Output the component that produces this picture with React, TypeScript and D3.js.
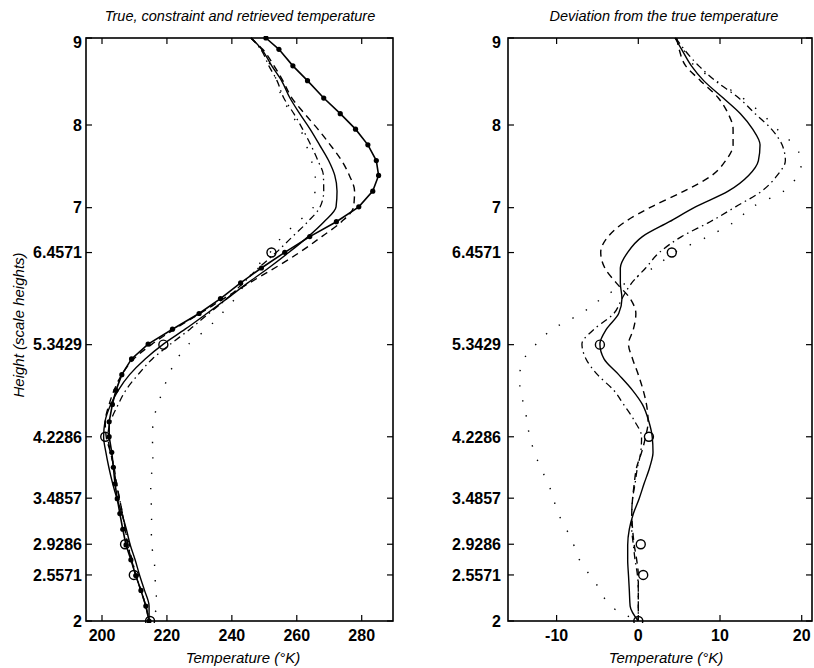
import React from "react";
import * as d3 from "d3";

// ---------- data ----------
const heights = [9.0, 8.87, 8.68, 8.51, 8.31, 8.13, 7.95, 7.76, 7.57, 7.39, 7.2, 7.01, 6.83, 6.65, 6.46, 6.27, 6.09, 5.9, 5.72, 5.53, 5.35, 5.17, 4.98, 4.79, 4.62, 4.41, 4.23, 4.04, 3.86, 3.66, 3.48, 3.3, 3.11, 2.92, 2.74, 2.55, 2.37, 2.18, 2.0];

const trueTemp = [250.5, 254.5, 258.8, 263.3, 268.3, 273.4, 278.1, 281.9, 284.5, 285.2, 283.4, 279.1, 272.2, 264.0, 256.3, 249.1, 242.7, 236.5, 229.9, 221.7, 214.2, 209.1, 206.1, 204.3, 203.2, 202.2, 202.2, 203.0, 203.5, 204.0, 204.7, 205.5, 206.4, 207.4, 208.9, 210.4, 212.0, 213.5, 214.5];

const solidTemp = [246.0, 249.2, 252.3, 255.3, 257.9, 260.9, 264.1, 267.0, 269.8, 271.7, 272.4, 272.1, 268.4, 263.5, 257.6, 251.3, 244.9, 238.5, 232.3, 225.6, 218.9, 213.3, 208.5, 205.0, 202.7, 200.9, 200.5, 201.2, 202.1, 203.3, 204.6, 206.1, 207.5, 208.7, 210.2, 211.6, 213.1, 214.5, 214.5];
const dashedTemp = [245.8, 249.5, 253.0, 255.7, 258.5, 262.4, 266.5, 270.3, 273.8, 276.2, 277.8, 277.5, 273.8, 267.7, 260.9, 253.2, 245.4, 237.5, 230.2, 222.3, 215.4, 209.8, 206.1, 203.7, 202.2, 201.0, 201.3, 202.6, 203.7, 204.5, 205.4, 206.3, 207.1, 207.9, 209.1, 210.4, 212.0, 213.5, 214.5];
const dashDotTemp = [245.9, 248.9, 251.4, 253.9, 256.0, 259.1, 261.8, 264.3, 266.5, 268.2, 268.3, 267.2, 263.4, 258.7, 253.7, 248.2, 243.5, 238.5, 232.9, 227.1, 221.1, 215.5, 211.1, 207.3, 205.0, 202.6, 201.8, 202.7, 203.6, 204.4, 205.4, 206.3, 207.2, 208.0, 209.3, 210.5, 212.0, 213.5, 214.5];
const dottedTemp = [246.0, 249.0, 251.9, 253.8, 255.5, 258.3, 261.1, 262.9, 264.5, 265.7, 265.6, 265.1, 260.4, 255.5, 251.8, 247.3, 244.2, 241.0, 236.9, 232.2, 226.7, 223.1, 220.6, 218.8, 217.2, 215.8, 215.5, 215.7, 215.5, 215.0, 215.1, 215.3, 215.2, 215.3, 216.1, 216.3, 216.6, 216.9, 214.5];

const solidDev = [4.5, 5.3, 6.5, 8.0, 10.4, 12.5, 14.0, 14.9, 14.7, 13.5, 11.0, 7.0, 3.8, 0.5, -1.3, -2.2, -2.2, -2.0, -2.4, -3.9, -4.7, -4.2, -2.4, -0.7, 0.5, 1.3, 1.7, 1.8, 1.4, 0.7, 0.1, -0.6, -1.1, -1.3, -1.3, -1.2, -1.1, -1.0, 0.0];
const dashedDev = [4.7, 5.0, 5.8, 7.6, 9.8, 11.0, 11.6, 11.6, 10.7, 9.0, 5.6, 1.6, -1.6, -3.7, -4.6, -4.1, -2.7, -1.0, -0.3, -0.6, -1.2, -0.7, 0.0, 0.6, 1.0, 1.2, 0.9, 0.4, -0.2, -0.5, -0.7, -0.8, -0.7, -0.5, -0.2, 0.0, 0.0, 0.0, 0.0];
const dashDotDev = [4.6, 5.6, 7.4, 9.4, 12.3, 14.3, 16.3, 17.6, 18.0, 17.0, 15.1, 11.9, 8.8, 5.3, 2.6, 0.9, -0.8, -2.0, -3.0, -5.4, -6.9, -6.4, -5.0, -3.0, -1.8, -0.4, 0.4, 0.3, -0.1, -0.4, -0.7, -0.8, -0.8, -0.6, -0.4, -0.1, 0.0, 0.0, 0.0];
const dottedDev = [4.5, 5.5, 6.9, 9.5, 12.8, 15.1, 17.0, 19.0, 20.0, 19.5, 17.8, 14.0, 11.8, 8.5, 4.5, 1.8, -1.5, -4.5, -7.0, -10.5, -12.5, -14.0, -14.5, -14.5, -14.0, -13.6, -13.3, -12.7, -12.0, -11.0, -10.4, -9.8, -8.8, -7.9, -7.2, -5.9, -4.6, -3.4, 0.0];

const circleHeights = [6.4571, 5.3429, 4.2286, 2.9286, 2.5571, 2.0];
const circleTemp = [252.2, 218.9, 201.0, 207.1, 209.8, 214.8];
const circleDev = [4.1, -4.7, 1.3, 0.3, 0.6, 0.0];

const yTickValues = [9, 8, 7, 6.4571, 5.3429, 4.2286, 3.4857, 2.9286, 2.5571, 2];
const yTickLabels = ["9", "8", "7", "6.4571", "5.3429", "4.2286", "3.4857", "2.9286", "2.5571", "2"];
const xTicksLeft = [200, 220, 240, 260, 280];
const xTicksRight = [-10, 0, 10, 20];
const xTickLabelsRight = ["-10", "0", "10", "20"];

const leftTitle = "True, constraint and retrieved temperature";
const rightTitle = "Deviation from the true temperature";
const xTitle = "Temperature (\u00B0K)";
const yTitle = "Height (scale heights)";

const FONT = "'Liberation Sans', Arial, Helvetica, sans-serif";

export default function App() {
  // piecewise-linear height scale (the scanned figure is slightly stretched at the top)
  const yS = d3.scaleLinear().domain([2, 8, 9]).range([621, 125, 38]);
  const xL = d3.scaleLinear().domain([195.07, 289.64]).range([86, 393]);
  const xR = d3.scaleLinear().domain([-15.95, 21.26]).range([508, 812]);

  const mk = (xs: d3.ScaleLinear<number, number>, vals: number[], curve: any) =>
    d3
      .line<number>()
      .x((d) => xs(d))
      .y((_, i) => yS(heights[i]))
      .curve(curve)(vals) || "";

  const smooth = d3.curveMonotoneY;
  const styles = [
    { dash: "", w: 1.4 },
    { dash: "7,5", w: 1.4 },
    { dash: "7,4,1.5,4", w: 1.3 },
    { dash: "1.4,14", w: 1.4 },
  ];

  const leftSeries = [solidTemp, dashedTemp, dashDotTemp, dottedTemp];
  const rightSeries = [solidDev, dashedDev, dashDotDev, dottedDev];

  const frame = (x0: number, x1: number, xs: d3.ScaleLinear<number, number>, xt: number[], xl: string[], labelEnd: number, key: string) => {
    const y0 = yS(9), y1 = yS(2);
    const tl = 6;
    return (
      <g key={key}>
        <rect x={x0} y={y0} width={x1 - x0} height={y1 - y0} fill="none" stroke="#000" strokeWidth={1.6} />
        {yTickValues.map((v, i) => (
          <g key={"y" + i}>
            <line x1={x0} x2={x0 + tl} y1={yS(v)} y2={yS(v)} stroke="#000" strokeWidth={1.2} />
            <line x1={x1} x2={x1 - tl} y1={yS(v)} y2={yS(v)} stroke="#000" strokeWidth={1.2} />
            <text x={labelEnd} y={Math.max(yS(v), 42.5)} dy="0.36em" textAnchor="end" fontSize={16} fontWeight="bold" fontFamily={FONT}>
              {yTickLabels[i]}
            </text>
          </g>
        ))}
        {xt.map((v, i) => (
          <g key={"x" + i}>
            <line x1={xs(v)} x2={xs(v)} y1={y1} y2={y1 - tl} stroke="#000" strokeWidth={1.2} />
            <line x1={xs(v)} x2={xs(v)} y1={y0} y2={y0 + tl} stroke="#000" strokeWidth={1.2} />
            <text x={xs(v)} y={641} textAnchor="middle" fontSize={16} fontWeight="bold" fontFamily={FONT}>
              {xl[i]}
            </text>
          </g>
        ))}
      </g>
    );
  };

  return (
    <div style={{ position: "absolute", left: 0, top: 0 }}>
      <svg width={814} height={668} viewBox="0 0 814 668" style={{ display: "block", background: "#fff" }}>
        <rect x={0} y={0} width={814} height={668} fill="#fff" />
        <defs>
          <clipPath id="clipL">
            <rect x={86} y={yS(9) - 2} width={307} height={yS(2) - yS(9) + 4} />
          </clipPath>
          <clipPath id="clipR">
            <rect x={508} y={yS(9) - 2} width={304} height={yS(2) - yS(9) + 4} />
          </clipPath>
        </defs>

        {/* titles */}
        <text x={240} y={21} textAnchor="middle" fontSize={14.5} fontStyle="italic" fontFamily={FONT}>
          {leftTitle}
        </text>
        <text x={664} y={21} textAnchor="middle" fontSize={14.5} fontStyle="italic" fontFamily={FONT}>
          {rightTitle}
        </text>
        <text x={243} y={663} textAnchor="middle" fontSize={15} fontStyle="italic" fontFamily={FONT}>
          {xTitle}
        </text>
        <text x={666} y={663} textAnchor="middle" fontSize={15} fontStyle="italic" fontFamily={FONT}>
          {xTitle}
        </text>
        <text
          transform={`translate(24,325) rotate(-90)`}
          textAnchor="middle"
          fontSize={15}
          fontStyle="italic"
          fontFamily={FONT}
        >
          {yTitle}
        </text>

        {/* left panel */}
        <g clipPath="url(#clipL)">
          {leftSeries.map((s, k) => (
            <path key={k} d={mk(xL, s, smooth)} fill="none" stroke="#000" strokeWidth={styles[k].w} strokeDasharray={styles[k].dash} />
          ))}
          <path d={mk(xL, trueTemp, d3.curveLinear)} fill="none" stroke="#000" strokeWidth={1.6} />
          {trueTemp.map((t, i) => (
            <circle key={i} cx={xL(t)} cy={yS(heights[i])} r={2.6} fill="#000" />
          ))}
          {circleTemp.map((t, i) => (
            <circle key={"c" + i} cx={xL(t)} cy={yS(circleHeights[i])} r={4.5} fill="none" stroke="#000" strokeWidth={1.4} />
          ))}
        </g>
        {frame(86, 393, xL, xTicksLeft, xTicksLeft.map(String), 82, "fl")}

        {/* right panel */}
        <g clipPath="url(#clipR)">
          {rightSeries.map((s, k) => (
            <path key={k} d={mk(xR, s, smooth)} fill="none" stroke="#000" strokeWidth={styles[k].w} strokeDasharray={styles[k].dash} />
          ))}
          {circleDev.map((t, i) => (
            <circle key={"c" + i} cx={xR(t)} cy={yS(circleHeights[i])} r={4.5} fill="none" stroke="#000" strokeWidth={1.4} />
          ))}
        </g>
        {frame(508, 812, xR, xTicksRight, xTickLabelsRight, 501, "fr")}
      </svg>
    </div>
  );
}
